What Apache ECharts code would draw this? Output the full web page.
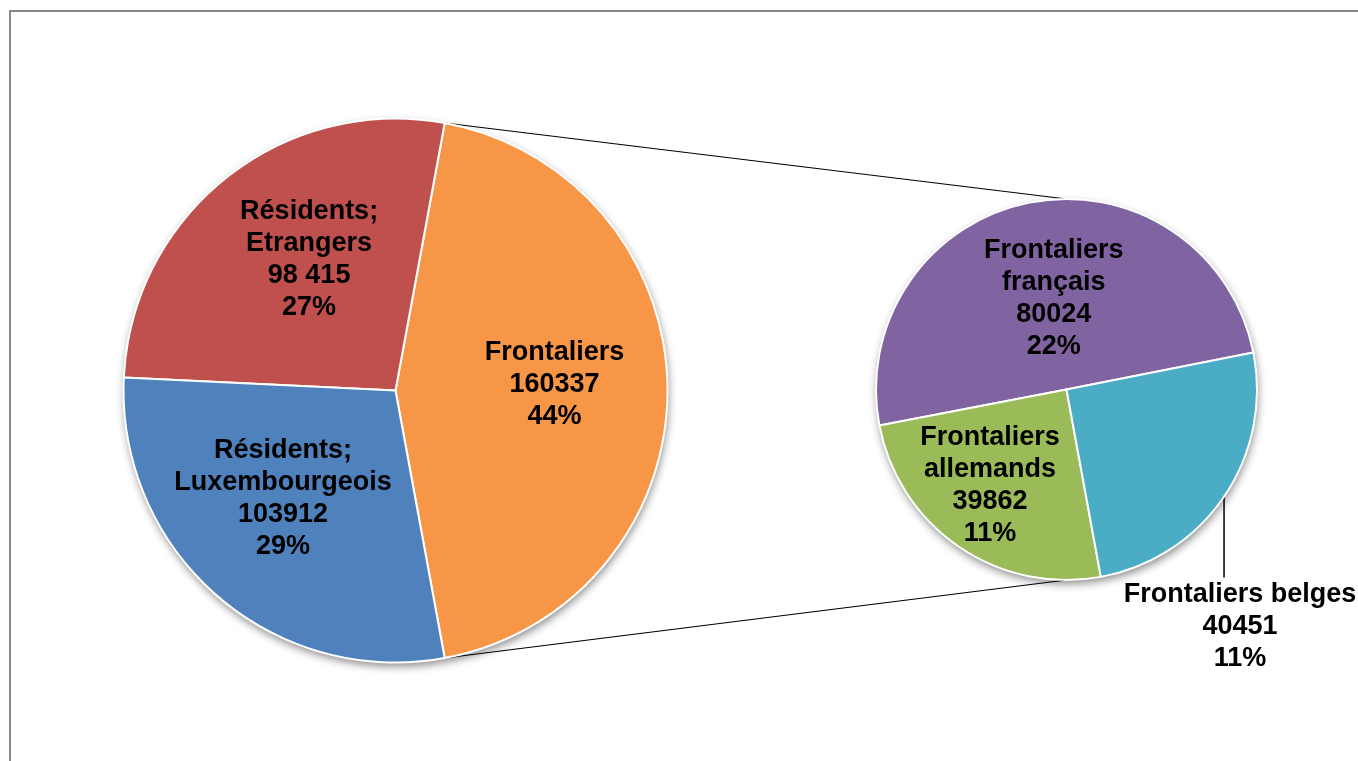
<!DOCTYPE html>
<html>
<head>
<meta charset="utf-8">
<script src="https://cdn.jsdelivr.net/npm/echarts@6/dist/echarts.min.js"></script>
<style>
  html, body { margin: 0; padding: 0; background: #fff; }
  #chart { width: 1358px; height: 761px; }
</style>
</head>
<body>
<div id="chart"></div>
<script>
// ---- data ----
const mainNames = ['Frontaliers', 'Résidents;\nEtrangers', 'Résidents;\nLuxembourgeois'];
const mainValues = [160337, 98415, 103912];
const mainValueText = ['160337', '98 415', '103912'];
const subNames = ['Frontaliers\nfrançais', 'Frontaliers\nallemands', 'Frontaliers belges'];
const subValues = [80024, 39862, 40451];
const subValueText = ['80024', '39862', '40451'];

// ---- styles / layout ----
const mainColors = ['#F79646', '#C0504D', '#4F81BD'];
const subColors = ['#8064A2', '#9BBB59', '#4BACC6'];
const C1 = [395.5, 390.5], R1 = 272;
const C2 = [1066.5, 389.5], R2 = 190.5;
const subStart = 11.2;
const mainNudge = [[20, -6], [0, -22], [-21, 3]];
const subNudge = [[6, 5], [-21, 15], [0, 0]];

const total = mainValues.reduce((a, b) => a + b, 0);
const subTotal = subValues.reduce((a, b) => a + b, 0);
const pct = v => Math.round(v / total * 100) + '%';

const labelStyle = {
  color: '#000', fontFamily: 'Liberation Sans, Arial, sans-serif',
  fontWeight: 'bold', fontSize: 27, lineHeight: 32
};

const mainHalf = mainValues[0] / total * 180; // half-angle of Frontaliers slice
const mainStart = -mainHalf;

// belges mid angle
const belgesMid = subStart + (subValues[0] + subValues[1]) / subTotal * 360 + subValues[2] / subTotal * 180;
const bRad = belgesMid * Math.PI / 180;
const bx = C2[0] + R2 * Math.cos(bRad), by = C2[1] - R2 * Math.sin(bRad);

const a1 = mainHalf * Math.PI / 180;
const p1Top = [C1[0] + R1 * Math.cos(a1), C1[1] - R1 * Math.sin(a1)];
const p1Bot = [C1[0] + R1 * Math.cos(a1), C1[1] + R1 * Math.sin(a1)];
const p2Top = [C2[0], C2[1] - R2];
const p2Bot = [C2[0], C2[1] + R2];

const backing = (center, radius, value) => ({
  type: 'pie', center: center, radius: radius, silent: true, z: 1,
  label: { show: false }, labelLine: { show: false },
  itemStyle: { color: '#fff', shadowBlur: 8, shadowOffsetY: 4, shadowOffsetX: 1, shadowColor: 'rgba(0,0,0,0.45)' },
  data: [value]
});

const chart = echarts.init(document.getElementById('chart'), null, { renderer: 'canvas' });
chart.setOption({
  animation: false,
  backgroundColor: '#fff',
  graphic: [
    { type: 'rect', z: 0, shape: { x: 10, y: 11, width: 1400, height: 800 },
      style: { fill: 'none', stroke: '#888888', lineWidth: 2 } },
    { type: 'line', z: 0, shape: { x1: p1Top[0], y1: p1Top[1], x2: p2Top[0], y2: p2Top[1] },
      style: { stroke: '#000', lineWidth: 1.2 } },
    { type: 'line', z: 0, shape: { x1: p1Bot[0], y1: p1Bot[1], x2: p2Bot[0], y2: p2Bot[1] },
      style: { stroke: '#000', lineWidth: 1.2 } }
  ],
  series: [
    backing(C1, R1, total),
    backing(C2, R2, subTotal),
    {
      type: 'pie', center: C1, radius: R1, z: 2,
      clockwise: false, startAngle: mainStart, avoidLabelOverlap: false,
      silent: true,
      itemStyle: { borderColor: '#fff', borderWidth: 2 },
      label: Object.assign({ show: true, position: 'inside' }, labelStyle),
      labelLine: { show: false },
      data: mainValues.map((v, i) => ({
        name: mainNames[i], value: v,
        itemStyle: { color: mainColors[i] },
        label: { offset: mainNudge[i], formatter: mainNames[i] + '\n' + mainValueText[i] + '\n' + pct(v) }
      }))
    },
    {
      type: 'pie', center: C2, radius: R2, z: 2,
      clockwise: false, startAngle: subStart, avoidLabelOverlap: false,
      silent: true,
      itemStyle: { borderColor: '#fff', borderWidth: 2 },
      label: Object.assign({ show: true, position: 'inside' }, labelStyle),
      labelLine: { show: false },
      labelLayout: function (p) {
        if (p.dataIndex !== 2) return {};
        return {
          x: bx + 16, y: by + 82, align: 'center', verticalAlign: 'top',
          labelLinePoints: [[bx, by], [bx, by + 81], [bx, by + 81]]
        };
      },
      data: subValues.map((v, i) => ({
        name: subNames[i], value: v,
        itemStyle: { color: subColors[i] },
        label: i === 2
          ? { position: 'outside', formatter: subNames[i] + '\n' + subValueText[i] + '\n' + pct(v) }
          : { offset: subNudge[i], formatter: subNames[i] + '\n' + subValueText[i] + '\n' + pct(v) },
        labelLine: i === 2 ? { show: true, lineStyle: { color: '#000', width: 1.5 } } : { show: false }
      }))
    }
  ]
});
</script>
</body>
</html>
